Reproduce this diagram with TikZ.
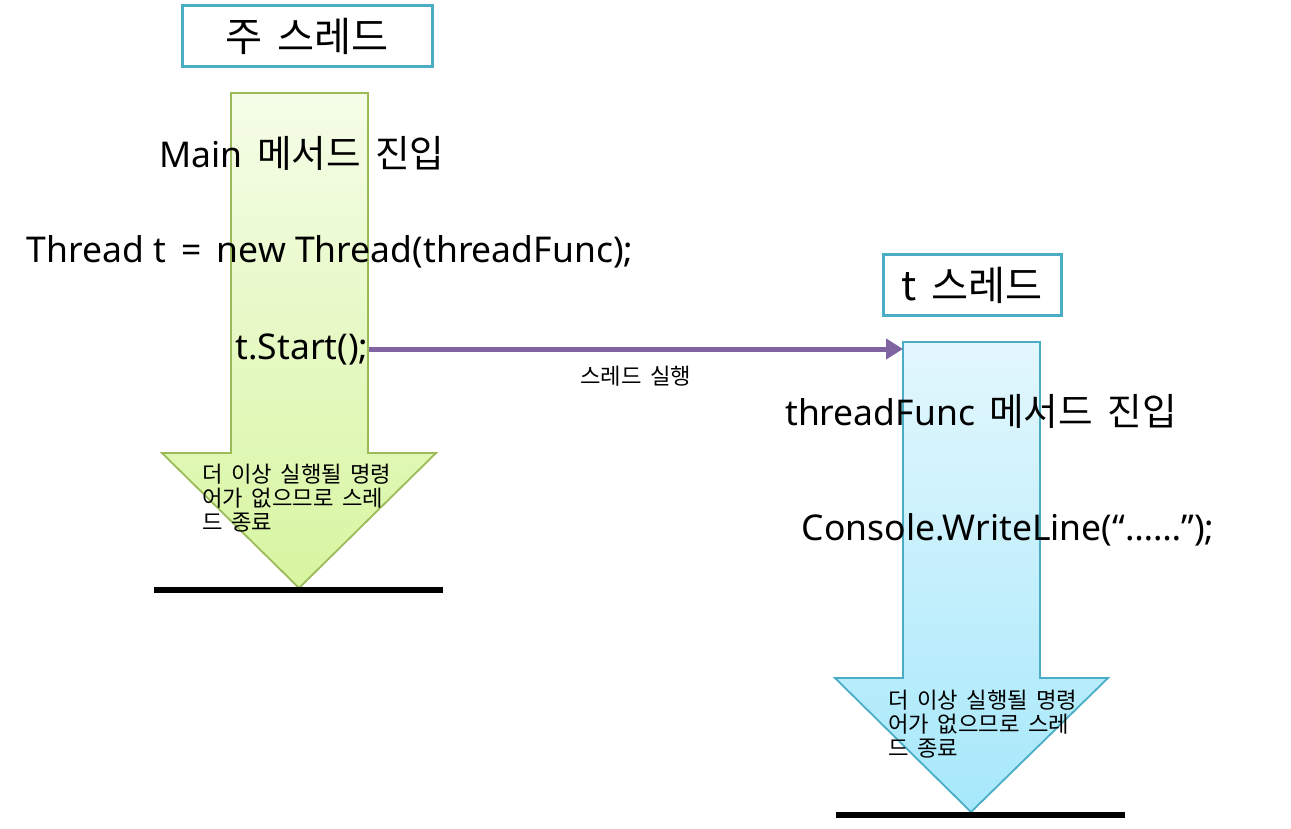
\documentclass[tikz,border=0pt]{standalone}
\usepackage{fontspec}
\usetikzlibrary{arrows.meta}
\setmainfont{Noto Sans}
\newfontfamily\kr{Noto Sans CJK KR}[WordSpace=1.7, Scale=1.06]
\definecolor{boxteal}{HTML}{4BACC6}
\definecolor{mainedge}{HTML}{9BBB59}
\definecolor{flowpurple}{HTML}{8064A2}
\begin{document}
\begin{tikzpicture}[x=1pt, y=-1pt,
		label/.style={inner sep=0pt, font=\fontsize{35.5}{40}\selectfont},
		small/.style={inner sep=0pt, align=left, font=\kr\fontsize{21}{24}\selectfont},
		title/.style={draw=boxteal, line width=3pt, inner sep=0pt, minimum width=250pt, minimum height=61pt, font=\kr\fontsize{38}{44}\selectfont},
		flow/.style={draw=flowpurple, line width=5pt, -{Triangle[length=17pt, width=20pt]}},
		stop/.style={line width=6pt, draw=black}]
	\useasboundingbox (0,0) rectangle (1291,829);

	% main thread
	\node[title] (mainbox) at (307,36) {주 스레드};
	\shade[top color={rgb,255:red,245;green,253;blue,232}, bottom color={rgb,255:red,215;green,245;blue,160}, draw=mainedge, line width=1.8pt]
		(231,93) coordinate (mtop) -- (368,93) -- (368,453) -- (436,453) -- (299,588) coordinate (mtip) -- (162,453) -- (231,453) -- cycle;
	\draw[stop] (154,590) -- (443,590);

	% t thread
	\node[title, minimum width=178pt] (tbox) at (972,285) {t 스레드};
	\shade[top color={rgb,255:red,227;green,247;blue,253}, bottom color={rgb,255:red,166;green,232;blue,251}, draw=boxteal, line width=1.8pt]
		(903,342) coordinate (ttop) -- (1040,342) -- (1040,678) -- (1108,678) -- (971,812) coordinate (ttip) -- (835,678) -- (903,678) -- cycle;
	\draw[stop] (836,815) -- (1125,815);

	% texts
	\node[label] (mainin) at (302,153) {Main{\kr~메서드 진입}};
	\node[label] (newt) at (330,252) {Thread t \,=\, new Thread(threadFunc);};
	\node[label] (tstart) at (302,349) {t.Start();};
	\node[label] (funcin) at (981,411) {threadFunc{\kr~메서드 진입}};
	\node[label] (write) at (1008,530) {Console.WriteLine(“……”);};
	\node[small, anchor=north west] (mainend) at (202,464) {더 이상 실행될 명령\\어가 없으므로 스레\\드 종료};
	\node[small, anchor=north west] (tend) at (888,690) {더 이상 실행될 명령\\어가 없으므로 스레\\드 종료};

	% start
	\draw[flow] (tstart.east) -- (tstart.east -| ttop) node[small, midway, below=15pt] (run) {스레드 실행};
\end{tikzpicture}
\end{document}
